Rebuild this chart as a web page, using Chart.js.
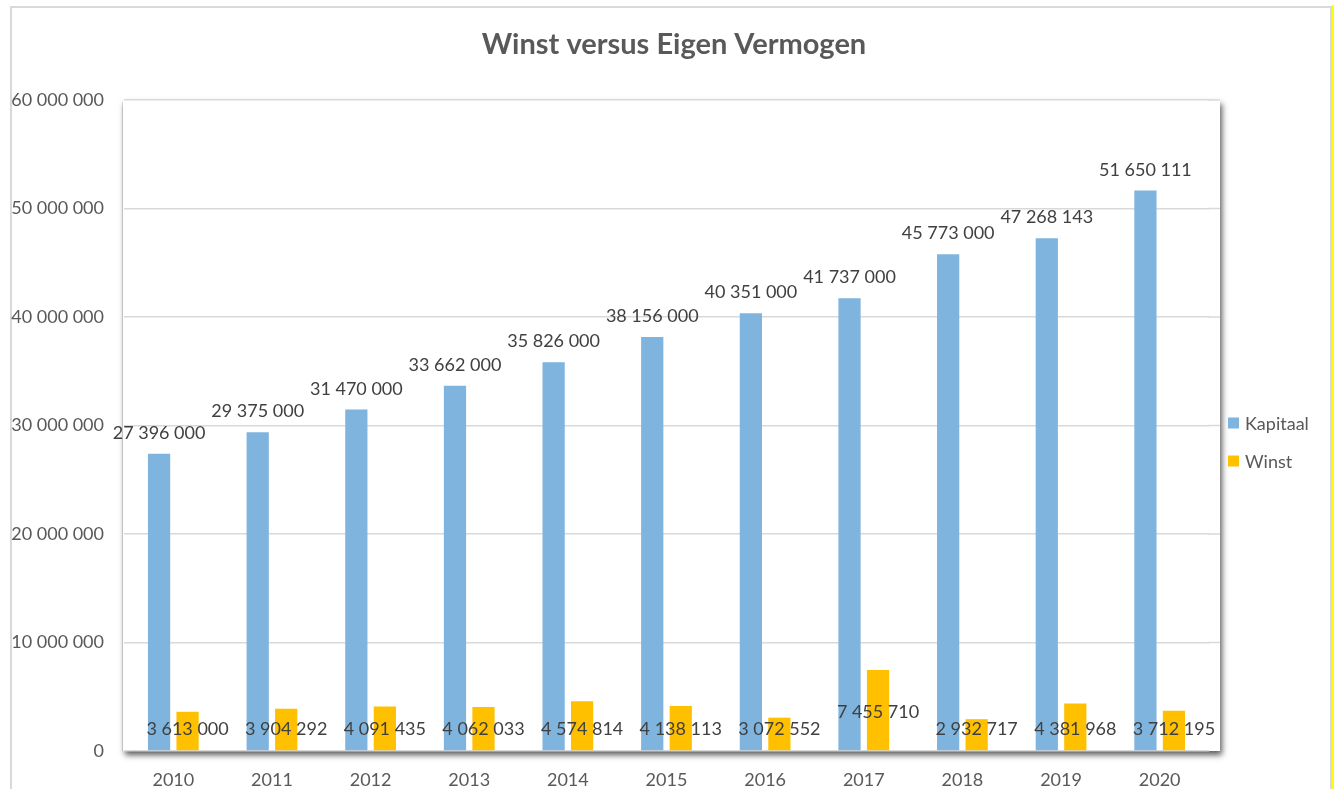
<!DOCTYPE html>
<html><head><meta charset="utf-8">
<script src="https://cdn.jsdelivr.net/npm/chart.js@4.4.1/dist/chart.umd.min.js"></script>
<style>
html,body{margin:0;padding:0;background:#fff;overflow:hidden}
#wrap{position:relative;width:1338px;height:789px}
#frame{position:absolute;left:10px;top:6px;width:1322px;height:820px;border:2px solid #d9d9d9;box-sizing:border-box}
#yl{position:absolute;left:1332px;top:5px;width:2px;height:784px;background:#ffff00}
canvas{position:absolute;left:0;top:0}
</style></head><body>
<div id="wrap"><div id="frame"></div><div id="yl"></div><canvas id="c" width="1338" height="789"></canvas></div>
<script>
const categories = ['2010','2011','2012','2013','2014','2015','2016','2017','2018','2019','2020'];
const kapitaal = [27396000,29375000,31470000,33662000,35826000,38156000,40351000,41737000,45773000,47268143,51650111];
const winst = [3613000,3904292,4091435,4062033,4574814,4138113,3072552,7455710,2932717,4381968,3712195];
const seriesNames = ['Kapitaal','Winst'];
const yMin = 0, yMax = 60000000, yStep = 10000000;

function fmt(v){
  const s = String(Math.round(v));
  return s.replace(/\B(?=(\d{3})+(?!\d))/g,' ');
}
const FONT = 'Lato';

const framePlugin = {
  id:'framePlugin',
  afterLayout(chart){
    const t = chart.titleBlock;
    if(t){ t.left = 10; t.right = 1338; t.width = 1328; }
  },
  beforeDraw(chart){
    const {ctx, chartArea:a} = chart;
    ctx.save();
    ctx.shadowColor='rgba(0,0,0,0.65)';
    ctx.shadowBlur=6; ctx.shadowOffsetX=2; ctx.shadowOffsetY=4;
    ctx.fillStyle='#fff';
    ctx.fillRect(a.left-1, a.top, (a.right+11)-(a.left-1), a.bottom-a.top);
    ctx.restore();
    ctx.save();
    ctx.strokeStyle='rgba(0,0,0,0.12)'; ctx.lineWidth=1;
    ctx.beginPath(); ctx.moveTo(a.left-1.5, a.top+2); ctx.lineTo(a.left-1.5, a.bottom); ctx.stroke();
    ctx.restore();
  },
  beforeDatasetsDraw(chart){
    const {ctx, chartArea:a, scales:{y}} = chart;
    ctx.save();
    ctx.strokeStyle='#d9d9d9'; ctx.lineWidth=1.5;
    y.ticks.forEach(t=>{
      if(t.value===0) return;
      const py=y.getPixelForValue(t.value);
      ctx.beginPath(); ctx.moveTo(a.right-1,py); ctx.lineTo(a.right+11,py); ctx.stroke();
    });
    ctx.restore();
  },
  afterDatasetsDraw(chart){
    const {ctx, scales:{y}} = chart;
    const m0 = chart.getDatasetMeta(0), m1 = chart.getDatasetMeta(1);
    const zero = y.getPixelForValue(0);
    ctx.save();
    ctx.font = '18px '+FONT; ctx.fillStyle='#404040';
    ctx.textAlign='center'; ctx.textBaseline='alphabetic';
    m0.data.forEach((bar,i)=>ctx.fillText(fmt(kapitaal[i]), bar.x, bar.y-15));
    m1.data.forEach((bar,i)=>ctx.fillText(fmt(winst[i]), bar.x, zero-16-(i===7?17:0)));
    ctx.restore();
  },
  afterDraw(chart){
    const {ctx} = chart;
    ctx.save();
    ctx.font='18px '+FONT; ctx.textBaseline='middle'; ctx.textAlign='left';
    chart.data.datasets.forEach((d,i)=>{
      const cy = 423 + i*38;
      ctx.fillStyle=d.backgroundColor;
      ctx.fillRect(1228, cy-5.5, 11, 11);
      ctx.fillStyle='#595959';
      ctx.fillText(d.label, 1245, cy+1);
    });
    ctx.restore();
  }
};

new Chart(document.getElementById('c'),{
  type:'bar',
  data:{labels:categories, datasets:[
    {label:seriesNames[0], data:kapitaal, backgroundColor:'#7fb4de', categoryPercentage:0.578, barPercentage:0.78},
    {label:seriesNames[1], data:winst, backgroundColor:'#ffc000', categoryPercentage:0.578, barPercentage:0.78}
  ]},
  options:{
    responsive:false, animation:false, devicePixelRatio:1,
    layout:{padding:{left:0,right:129,top:0,bottom:0}},
    plugins:{
      legend:{display:false}, tooltip:{enabled:false},
      title:{display:true,text:'Winst versus Eigen Vermogen',color:'#595959',
        font:{family:FONT,size:29,weight:'bold',lineHeight:1.2},padding:{top:27,bottom:38.2}}
    },
    scales:{
      x:{offset:true, grid:{display:false,drawTicks:false}, border:{display:false},
        ticks:{color:'#595959',font:{family:FONT,size:18},padding:18},
        afterFit(s){s.height=38;}},
      y:{min:yMin,max:yMax, grid:{color:'#d9d9d9',lineWidth:1.5,drawTicks:false}, border:{display:false},
        ticks:{stepSize:yStep,callback:v=>fmt(v),color:'#595959',font:{family:FONT,size:18},padding:20},
        afterFit(s){s.width=124;}}
    }
  },
  plugins:[framePlugin]
});
</script>
</body></html>
